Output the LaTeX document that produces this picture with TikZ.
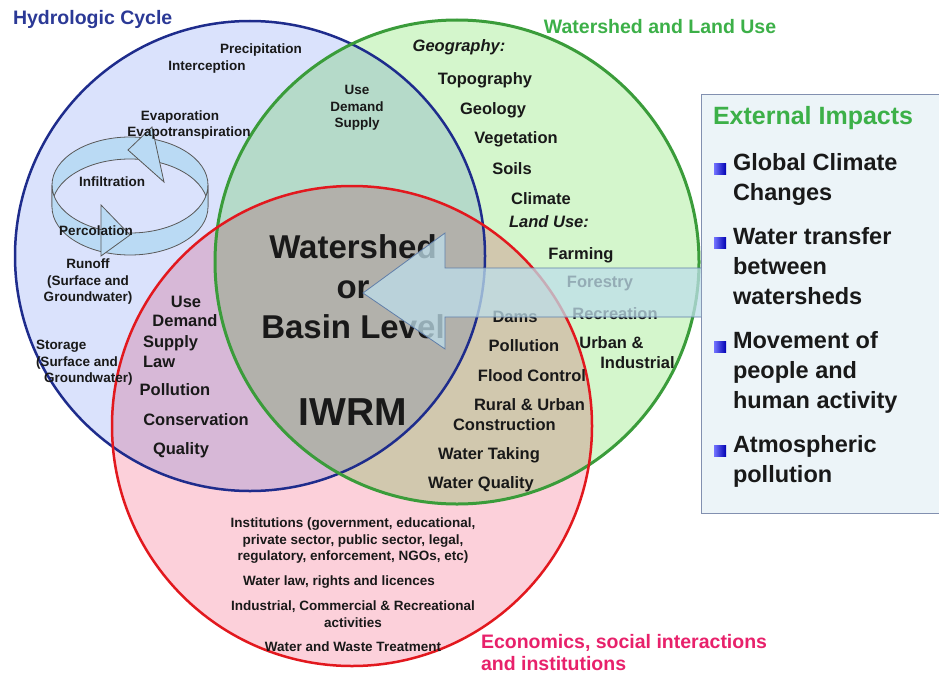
\documentclass[tikz,border=0pt]{standalone}
\usepackage{fontspec}
\setmainfont{Liberation Sans}
\usetikzlibrary{positioning}
\definecolor{bluefill}{RGB}{218,226,252}
\definecolor{greenfill}{RGB}{212,246,204}
\definecolor{redfill}{RGB}{252,208,218}
\definecolor{blueline}{RGB}{30,44,140}
\definecolor{greenline}{RGB}{58,156,58}
\definecolor{redline}{RGB}{226,24,30}
\definecolor{ringfill}{RGB}{186,218,244}
\definecolor{boxfill}{RGB}{236,244,248}
\definecolor{boxline}{RGB}{130,144,176}
\definecolor{arrowfill}{RGB}{190,222,234}
\definecolor{arrowline}{RGB}{96,126,168}
\definecolor{navytext}{RGB}{43,57,150}
\definecolor{greentext}{RGB}{60,176,72}
\definecolor{pinktext}{RGB}{232,33,107}

\begin{document}
\begin{tikzpicture}[x=1pt,y=-1pt,inner sep=0pt,outer sep=0pt]
      \tikzset{smallitem/.style={font=\bfseries\fontsize{13.5}{16.5}\selectfont,align=center,text=black!90}}
      \tikzset{item/.style={font=\bfseries\fontsize{16.5}{20}\selectfont,align=center,text=black!90}}
      \tikzset{bigtext/.style={font=\bfseries\fontsize{33}{40}\selectfont,align=center,text=black!90}}
      \tikzset{title/.style={font=\bfseries\fontsize{19.5}{22}\selectfont}}
      \tikzset{impact/.style={font=\bfseries\fontsize{23.5}{30}\selectfont,align=left,text=black!90,
          execute at begin node=\strut,execute at end node=\strut}}
      \tikzset{bullet/.style={left color=blue!55!white,right color=blue!70!black}}

      \useasboundingbox[fill=white] (0,0) rectangle (939,677);

      % the three circles
      \begin{scope}[blend group=multiply]
        \fill[bluefill] (250,256) circle[radius=235pt];
        \fill[greenfill] (457,262) circle[radius=242pt];
        \fill[redfill] (352,426) circle[radius=240pt];
      \end{scope}

      % hydrologic cycle ring
      \begin{scope}[draw=black!65,line width=0.8pt,fill=ringfill]
        \filldraw (52,185) arc[start angle=180,end angle=0,x radius=78pt,y radius=48pt]
          -- (208,207) arc[start angle=0,end angle=180,x radius=78pt,y radius=48pt] -- cycle;
        \filldraw (52,185) arc[start angle=180,end angle=360,x radius=78pt,y radius=48pt]
          -- (208,207) arc[start angle=360,end angle=180,x radius=78pt,y radius=48pt] -- cycle;
        \filldraw (128,150) -- (152,127) -- (164,182) -- cycle;
        \filldraw (130,235) -- (101,205) -- (101,256) -- cycle;
      \end{scope}

      \draw[blueline,line width=2.5pt] (250,256) circle[radius=235pt];
      \draw[greenline,line width=3pt] (457,262) circle[radius=242pt];
      \draw[redline,line width=2.5pt] (352,426) circle[radius=240pt];

      \node [title,text=navytext,anchor=west] (hydro) at (13,20) {Hydrologic Cycle};
      \node [title,text=greentext] (landtitle) at (660,27) {Watershed and Land Use};
      \node [title,text=pinktext,align=left,anchor=north west] (econ) at (481,634) {Economics, social interactions\\and institutions};

      \node [smallitem] (precip) at (261,50) {Precipitation};
      \node [smallitem] (intercept) at (207,67) {Interception};
      \node [smallitem] (evap) at (180,117) {Evaporation};
      \node [smallitem] (evapotr) at (189,133) {Evapotranspiration};
      \node [smallitem] (infil) at (112,182) {Infiltration};
      \node [smallitem] (percol) at (96,231) {Percolation};
      \node [smallitem] (runoff) at (88,282) {Runoff\\(Surface and\\Groundwater)};
      \node [smallitem,align=left,anchor=west] (storage) at (36,363) {Storage\\(Surface and\\\hspace*{8pt}Groundwater)};
      \node [smallitem] (usebg) at (357,108) {Use\\Demand\\Supply};

      \node [item,font=\bfseries\itshape\fontsize{16.5}{20}\selectfont] (geog) at (459,47) {Geography:};
      \node [item] (topo) at (485,80) {Topography};
      \node [item] (geol) at (493,110) {Geology};
      \node [item] (veg) at (516,139) {Vegetation};
      \node [item] (soils) at (512,169) {Soils};
      \node [item] (climate) at (541,199) {Climate};
      \node [item,font=\bfseries\itshape\fontsize{16.5}{20}\selectfont] (landuse) at (549,222) {Land Use:};
      \node [item] (farm) at (581,255) {Farming};
      \node [item] (forest) at (600,284) {Forestry};
      \node [item] (recr) at (615,314) {Recreation};
      \node [item,align=left] (urban) at (627,353) {Urban \&\\\hspace*{21pt}Industrial};

      \node [item] (dams) at (515,317) {Dams};
      \node [item] (pollgr) at (524,346) {Pollution};
      \node [item] (flood) at (532,376) {Flood Control};
      \node [item,align=left] (rural) at (519,415) {\hspace*{21pt}Rural \& Urban\\Construction};
      \node [item] (taking) at (489,455) {Water Taking};
      \node [item] (wquality) at (481,484) {Water Quality};

      \node [item] (usepk) at (186,302) {Use};
      \node [item] (demandpk) at (185,321) {Demand};
      \node [item,align=left,anchor=west] (supply) at (143,352) {Supply\\Law};
      \node [item] (pollpk) at (175,390) {Pollution};
      \node [item] (conserv) at (196,420) {Conservation};
      \node [item] (qualpk) at (181,450) {Quality};

      \node [bigtext] (level) at (353,287) {Watershed\\or\\Basin Level};
      \node [bigtext,font=\bfseries\fontsize{39}{40}\selectfont] (iwrm) at (353,412) {IWRM};

      \node [smallitem] (inst) at (353,541) {Institutions (government, educational,\\private sector, public sector, legal,\\regulatory, enforcement, NGOs, etc)};
      \node [smallitem] (wlaw) at (339,582) {Water law, rights and licences};
      \node [smallitem] (indus) at (353,614) {Industrial, Commercial \& Recreational\\activities};
      \node [smallitem] (treat) at (353,647) {Water and Waste Treatment};

      % external impacts
      \draw[boxline,fill=boxfill,line width=1pt] (701,94) rectangle (950,513);
      \node [impact,font=\bfseries\fontsize{25}{30}\selectfont,text=greentext,anchor=west] (extimp) at (713,118) {External Impacts};
      \node [impact,anchor=north west] (climchg) at (733,153.5) {Global Climate\\Changes};
      \node [impact,below=18pt of climchg.south west,anchor=north west] (transfer) {Water transfer\\between\\watersheds};
      \node [impact,below=18pt of transfer.south west,anchor=north west] (movement) {Movement of\\people and\\human activity};
      \node [impact,below=18pt of movement.south west,anchor=north west] (atmos) {Atmospheric\\pollution};
      \foreach \n in {climchg,transfer,movement,atmos}
        \shade[bullet] ([xshift=-19pt,yshift=-10pt]\n.north west) rectangle ++(12,11);

      \filldraw[arrowline,fill=arrowfill,fill opacity=0.75,line width=0.8pt]
        (701,268) -- (445,268) -- (445,233) -- (363,293) -- (445,349) -- (445,317) -- (701,317);
    \end{tikzpicture}
\end{document}
